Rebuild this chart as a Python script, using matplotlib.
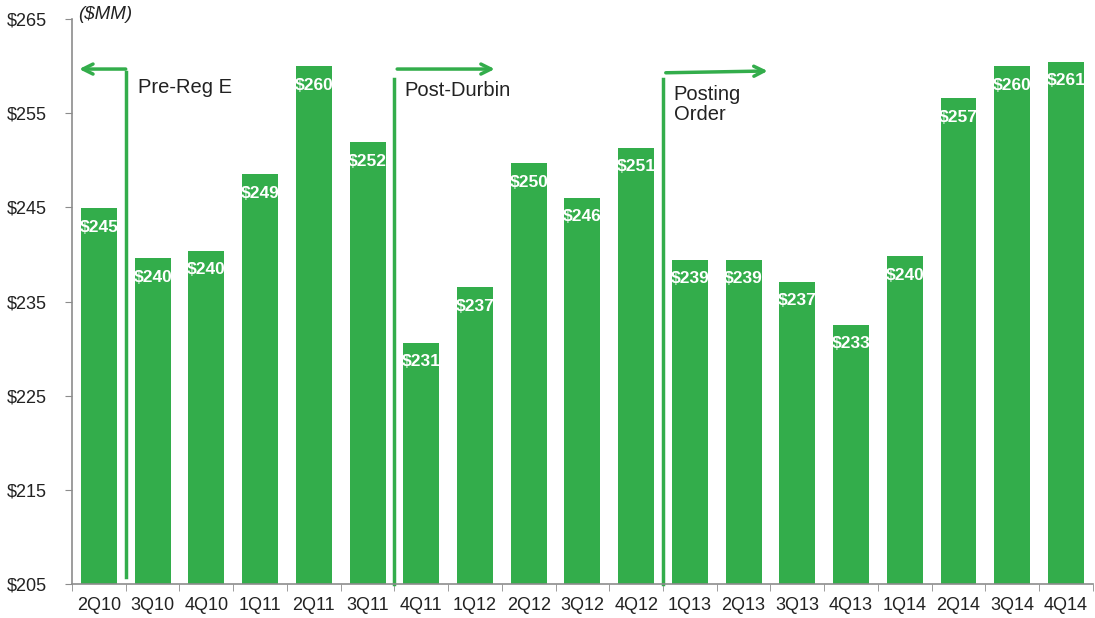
import matplotlib.pyplot as plt
from matplotlib.ticker import FixedLocator

plt.rcParams['font.family'] = ['Liberation Sans', 'DejaVu Sans']

quarters = ['2Q10', '3Q10', '4Q10', '1Q11', '2Q11', '3Q11', '4Q11', '1Q12', '2Q12', '3Q12',
            '4Q12', '1Q13', '2Q13', '3Q13', '4Q13', '1Q14', '2Q14', '3Q14', '4Q14']
revenue = [244.9, 239.6, 240.4, 248.5, 260.0, 251.9, 230.6, 236.5, 249.7, 246.0,
           251.3, 239.4, 239.4, 237.1, 232.5, 239.8, 256.6, 260.0, 260.5]
labels = ['$245', '$240', '$240', '$249', '$260', '$252', '$231', '$237', '$250', '$246',
          '$251', '$239', '$239', '$237', '$233', '$240', '$257', '$260', '$261']
y_ticks = [205, 215, 225, 235, 245, 255, 265]

green = '#33ad4b'
grey = '#8c8c8c'

fig = plt.figure(figsize=(10.95, 6.18), dpi=100)
ax = fig.add_axes([0.0658, 0.055, 0.9322, 0.914])

x = list(range(len(quarters)))
ax.bar(x, [v - 205 for v in revenue], bottom=205, width=0.67, color=green)
for i, v in enumerate(revenue):
    ax.text(i, v - 2.0, labels[i], ha='center', va='center', color='white',
            fontsize=12.5, fontweight='bold')

ax.set_xlim(-0.5, len(quarters) - 0.5)
ax.set_ylim(205, 265)
ax.set_yticks(y_ticks)
ax.set_yticklabels(['$%d' % t for t in y_ticks], fontsize=13, color='#222222')
ax.set_xticks(x)
ax.set_xticklabels(quarters, fontsize=13, color='#222222')
ax.tick_params(axis='x', which='major', length=0, pad=9)
ax.xaxis.set_minor_locator(FixedLocator([i - 0.5 for i in range(len(quarters) + 1)]))
ax.tick_params(axis='x', which='minor', length=5, color=grey, direction='out')
ax.tick_params(axis='y', length=5, color=grey, direction='out', pad=13)
for s in ['top', 'right']:
    ax.spines[s].set_visible(False)
for s in ['left', 'bottom']:
    ax.spines[s].set_color(grey)
    ax.spines[s].set_linewidth(1.2)

# period separators with arrows
ax.plot([0.5, 0.5], [205.7, 259.4], color=green, lw=2.5, clip_on=False)
ax.annotate('', xy=(-0.42, 259.7), xytext=(0.55, 259.7),
            arrowprops=dict(arrowstyle='->', color=green, lw=2.5, mutation_scale=18))
ax.text(0.72, 257.7, 'Pre-Reg E', fontsize=14.5, va='center', color='#222222')

ax.plot([5.5, 5.5], [205, 258.6], color=green, lw=2.5, clip_on=False)
ax.annotate('', xy=(7.42, 259.7), xytext=(5.5, 259.7),
            arrowprops=dict(arrowstyle='->', color=green, lw=2.5, mutation_scale=18))
ax.text(5.68, 257.4, 'Post-Durbin', fontsize=14.5, va='center', color='#222222')

ax.plot([10.5, 10.5], [205, 258.6], color=green, lw=2.5, clip_on=False)
ax.annotate('', xy=(12.5, 259.5), xytext=(10.5, 259.3),
            arrowprops=dict(arrowstyle='->', color=green, lw=2.5, mutation_scale=18))
ax.text(10.7, 255.9, 'Posting\nOrder', fontsize=14.5, va='center', color='#222222',
        linespacing=1.05)

fig.text(0.071, 0.977, '($MM)', fontsize=13.5, style='italic', va='center', color='#222222')

fig.savefig('out.png', dpi=100)
